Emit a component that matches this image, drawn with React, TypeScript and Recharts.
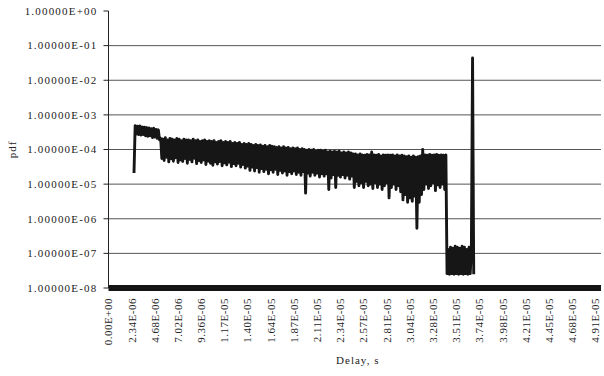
import React from "react";
import { CartesianGrid, Line, LineChart, XAxis, YAxis } from "recharts";

const xTickLabels = [
  "0.00E+00", "2.34E-06", "4.68E-06", "7.02E-06", "9.36E-06", "1.17E-05",
  "1.40E-05", "1.64E-05", "1.87E-05", "2.11E-05", "2.34E-05", "2.57E-05",
  "2.81E-05", "3.04E-05", "3.28E-05", "3.51E-05", "3.74E-05", "3.98E-05",
  "4.21E-05", "4.45E-05", "4.68E-05", "4.91E-05",
];

const yTickLabels = [
  "1.00000E-08", "1.00000E-07", "1.00000E-06", "1.00000E-05",
  "1.00000E-04", "1.00000E-03", "1.00000E-02", "1.00000E-01", "1.00000E+00",
];

// histogram bins, first non-empty bin is #22
const binWidth = 1.17e-7;
const firstBin = 22;

const pdfValues = [
  2.1e-5, 4.9e-4, 2.8e-4, 4.7e-4, 2.7e-4, 4.8e-4, 2.6e-4, 4.5e-4, 2.7e-4, 4.4e-4,
  2.5e-4, 4.3e-4, 2.4e-4, 4.2e-4, 2.5e-4, 4.0e-4, 2.2e-4, 4.1e-4, 2.3e-4, 3.8e-4,
  2.1e-4, 3.7e-4, 1.9e-4, 2.1e-4, 5.5e-5, 2.0e-4, 4.8e-5, 2.2e-4, 6.0e-5, 1.9e-4,
  4.4e-5, 2.1e-4, 5.4e-5, 2.0e-4, 4.6e-5, 1.9e-4, 5.8e-5, 2.1e-4, 4.2e-5, 2.0e-4,
  5.0e-5, 1.8e-4, 4.5e-5, 2.0e-4, 5.5e-5, 1.9e-4, 4.0e-5, 1.9e-4, 5.2e-5, 1.8e-4,
  4.4e-5, 2.0e-4, 5.6e-5, 1.8e-4, 3.9e-5, 1.9e-4, 4.8e-5, 1.7e-4, 4.2e-5, 1.8e-4,
  5.0e-5, 1.9e-4, 3.7e-5, 1.7e-4, 4.6e-5, 1.8e-4, 4.0e-5, 1.7e-4, 3.5e-5, 1.8e-4,
  4.4e-5, 1.6e-4, 3.8e-5, 1.7e-4, 4.5e-5, 1.8e-4, 3.4e-5, 1.6e-4, 4.1e-5, 1.7e-4,
  3.6e-5, 1.6e-4, 4.3e-5, 1.7e-4, 3.2e-5, 1.5e-4, 3.9e-5, 1.6e-4, 3.4e-5, 1.5e-4,
  4.0e-5, 1.6e-4, 3.1e-5, 1.4e-4, 3.7e-5, 1.5e-4, 2.9e-5, 1.4e-4, 3.3e-5, 1.5e-4,
  2.5e-5, 1.4e-4, 3.1e-5, 1.3e-4, 2.4e-5, 1.4e-4, 3.0e-5, 1.3e-4, 2.2e-5, 1.35e-4,
  2.8e-5, 1.25e-4, 2.3e-5, 1.3e-4, 2.7e-5, 1.2e-4, 2.0e-5, 1.3e-4, 2.6e-5, 1.25e-4,
  2.2e-5, 1.2e-4, 2.7e-5, 1.15e-4, 1.9e-5, 1.2e-4, 2.5e-5, 1.1e-4, 2.1e-5, 1.2e-4,
  2.4e-5, 1.1e-4, 1.8e-5, 1.15e-4, 2.3e-5, 1.05e-4, 2.0e-5, 1.1e-4, 2.4e-5, 1.05e-4,
  1.9e-5, 1.1e-4, 2.2e-5, 1.0e-4, 1.8e-5, 1.05e-4, 2.3e-5, 1.0e-4, 5.5e-6, 9.5e-5,
  2.1e-5, 1.0e-4, 1.7e-5, 9.5e-5, 2.2e-5, 1.0e-4, 1.8e-5, 9.0e-5, 2.1e-5, 9.5e-5,
  1.6e-5, 9.5e-5, 2.0e-5, 9.0e-5, 1.7e-5, 9.5e-5, 2.0e-5, 8.5e-5, 7.0e-6, 9.0e-5,
  1.5e-5, 8.5e-5, 1.9e-5, 9.0e-5, 8.0e-6, 8.5e-5, 1.8e-5, 9.0e-5, 1.6e-5, 8.0e-5,
  1.9e-5, 8.5e-5, 1.5e-5, 8.0e-5, 1.8e-5, 8.5e-5, 1.4e-5, 8.0e-5, 1.7e-5, 7.5e-5,
  8.0e-6, 7.5e-5, 1.2e-5, 7.0e-5, 9.0e-6, 7.5e-5, 1.1e-5, 7.0e-5, 8.0e-6, 6.8e-5,
  1.2e-5, 7.2e-5, 9.0e-6, 7.0e-5, 1.0e-5, 8.5e-5, 7.5e-6, 7.0e-5, 1.1e-5, 6.8e-5,
  8.0e-6, 7.2e-5, 1.0e-5, 6.5e-5, 7.0e-6, 7.0e-5, 9.0e-6, 6.8e-5, 1.1e-5, 7.0e-5,
  4.0e-6, 6.8e-5, 8.0e-6, 7.0e-5, 1.0e-5, 6.5e-5, 7.0e-6, 7.0e-5, 9.0e-6, 6.5e-5,
  6.0e-6, 6.8e-5, 3.5e-6, 6.5e-5, 5.0e-6, 6.2e-5, 3.0e-6, 6.5e-5, 4.0e-6, 6.0e-5,
  3.2e-6, 6.5e-5, 4.5e-6, 6.0e-5, 5.3e-7, 6.2e-5, 3.0e-6, 6.5e-5, 5.0e-6, 1.0e-4,
  7.0e-6, 7.0e-5, 1.0e-5, 6.8e-5, 7.5e-6, 7.2e-5, 9.0e-6, 6.8e-5, 1.1e-5, 7.0e-5,
  6.5e-6, 7.2e-5, 9.5e-6, 6.8e-5, 8.0e-6, 7.0e-5, 1.0e-5, 6.8e-5, 7.0e-6, 7.0e-5,
  2.6e-8, 1.3e-7, 2.5e-8, 1.5e-7, 2.6e-8, 1.4e-7, 2.5e-8, 1.6e-7, 2.6e-8, 1.5e-7,
  2.5e-8, 1.4e-7, 2.6e-8, 1.6e-7, 2.5e-8, 1.5e-7, 2.6e-8, 1.3e-7, 2.5e-8, 1.5e-7,
  2.6e-8, 1.4e-7, 4.4e-2, 2.5e-8,
];

const data = pdfValues.map((pdf, i) => ({ delay: (firstBin + i) * binWidth, pdf }));

const xTicks = xTickLabels.map(Number);
const yTicks = yTickLabels.map(Number);
const gridValues = yTicks.slice(1, -1);

const font = "'Liberation Serif', 'Times New Roman', serif";

const XTick = ({ x, y, payload }: any) => {
  const label = xTickLabels[xTicks.indexOf(payload.value)];
  const ty = y + 10;
  return (
    <text
      x={x}
      y={ty}
      transform={`rotate(-90, ${x}, ${ty})`}
      textAnchor="end"
      dy="0.35em"
      fontSize={11}
      letterSpacing={0.5}
      fontFamily={font}
      fill="#222"
    >
      {label}
    </text>
  );
};

const YTick = ({ x, y, payload }: any) => {
  const label = yTickLabels[yTicks.indexOf(payload.value)];
  return (
    <text
      x={x}
      y={y}
      textAnchor="end"
      dy="0.35em"
      fontSize={11}
      letterSpacing={1.2}
      fontFamily={font}
      fill="#222"
    >
      {label}
    </text>
  );
};

export default function App() {
  return (
    <div style={{ position: "absolute", left: 0, top: 0, background: "#fff" }}>
      <LineChart
        width={604}
        height={376}
        data={data}
        margin={{ top: 11, right: 3, bottom: 0, left: 0 }}
      >
        <CartesianGrid
          vertical={false}
          horizontalValues={gridValues}
          stroke="#555"
          strokeWidth={1}
        />
        <XAxis
          dataKey="delay"
          type="number"
          domain={[0, 4.97e-5]}
          ticks={xTicks}
          interval={0}
          allowDataOverflow
          height={88}
          tickLine={false}
          tickSize={0}
          tickMargin={0}
          axisLine={{ stroke: "#141414", strokeWidth: 6 }}
          tick={<XTick />}
          label={{
            value: "Delay, s",
            position: "insideBottom",
            offset: 12,
            dx: 3,
            style: { fontSize: 11, letterSpacing: 1, fontFamily: font, fill: "#222" },
          }}
        />
        <YAxis
          type="number"
          scale="log"
          domain={[1e-8, 1]}
          ticks={yTicks}
          interval={0}
          allowDataOverflow
          width={108.5}
          tickSize={5}
          tickMargin={6}
          axisLine={{ stroke: "#222" }}
          tickLine={{ stroke: "#222" }}
          tick={<YTick />}
          label={{
            value: "pdf",
            angle: -90,
            position: "insideLeft",
            offset: 12,
            style: { textAnchor: "middle", fontSize: 11, letterSpacing: 1, fontFamily: font, fill: "#222" },
          }}
        />
        <Line
          type="linear"
          dataKey="pdf"
          stroke="#161616"
          strokeWidth={2.9}
          strokeLinejoin="round"
          dot={false}
          isAnimationActive={false}
        />
      </LineChart>
    </div>
  );
}
